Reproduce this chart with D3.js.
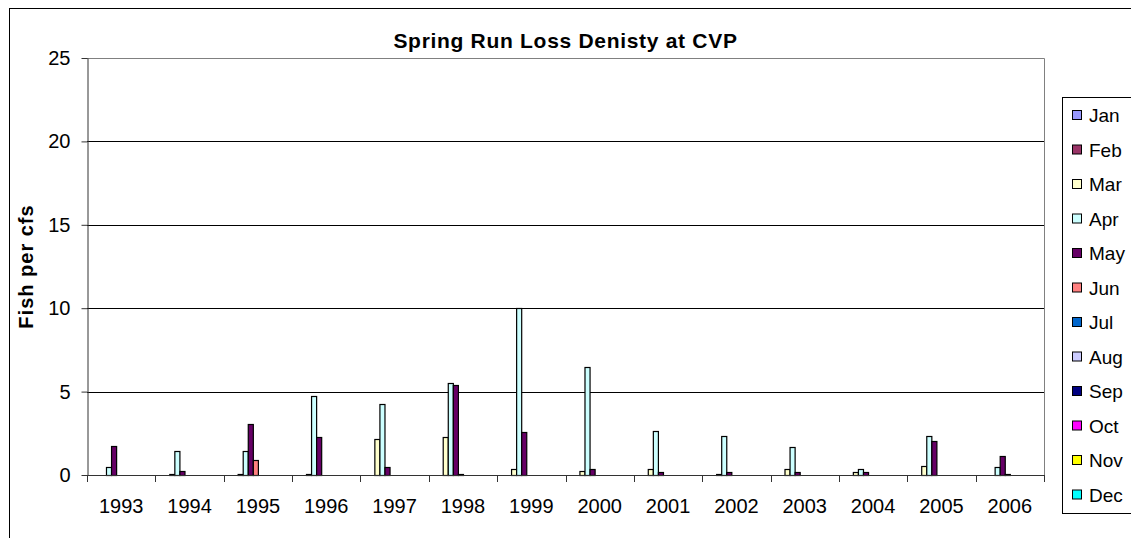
<!DOCTYPE html>
<html>
<head>
<meta charset="utf-8">
<script src="https://cdn.jsdelivr.net/npm/d3@7"></script>
<style>
  body { margin: 0; background: #fff; }
  svg { display: block; font-family: "Liberation Sans", Arial, sans-serif; }
</style>
</head>
<body>
<svg id="chart" width="1131" height="538"></svg>
<script>
// years on the x axis
var years = ["1993", "1994", "1995", "1996", "1997", "1998", "1999",
             "2000", "2001", "2002", "2003", "2004", "2005", "2006"];
var months = ["Jan", "Feb", "Mar", "Apr", "May", "Jun",
              "Jul", "Aug", "Sep", "Oct", "Nov", "Dec"];
var monthColors = ["#9999FF", "#993366", "#FFFFCC", "#CCFFFF", "#660066", "#FF8080",
                   "#0066CC", "#CCCCFF", "#000080", "#FF00FF", "#FFFF00", "#00FFFF"];

// fish per cfs, one array per month (1993..2006)
var jan = [0, 0, 0, 0, 0, 0, 0, 0, 0, 0, 0, 0, 0, 0];
var feb = [0, 0, 0, 0, 0, 0, 0, 0, 0, 0, 0, 0, 0, 0];
var mar = [0, 0.05, 0.05, 0.05, 2.15, 2.25, 0.35, 0.25, 0.35, 0.05, 0.35, 0.18, 0.55, 0];
var apr = [0.5, 1.45, 1.45, 4.75, 4.25, 5.5, 10.0, 6.5, 2.65, 2.35, 1.65, 0.35, 2.35, 0.45];
var may = [1.75, 0.25, 3.05, 2.25, 0.45, 5.4, 2.55, 0.35, 0.18, 0.18, 0.18, 0.18, 2.05, 1.15];
var jun = [0, 0, 0.88, 0, 0, 0.05, 0, 0, 0, 0, 0, 0, 0, 0.05];
var jul = [0, 0, 0, 0, 0, 0, 0, 0, 0, 0, 0, 0, 0, 0];
var aug = [0, 0, 0, 0, 0, 0, 0, 0, 0, 0, 0, 0, 0, 0];
var sep = [0, 0, 0, 0, 0, 0, 0, 0, 0, 0, 0, 0, 0, 0];
var oct = [0, 0, 0, 0, 0, 0, 0, 0, 0, 0, 0, 0, 0, 0];
var nov = [0, 0, 0, 0, 0, 0, 0, 0, 0, 0, 0, 0, 0, 0];
var dec = [0, 0, 0, 0, 0, 0, 0, 0, 0, 0, 0, 0, 0, 0];
var yTicks = [0, 5, 10, 15, 20, 25];

var series = [jan, feb, mar, apr, may, jun, jul, aug, sep, oct, nov, dec];

var plot = {left: 87, top: 58, right: 1044, bottom: 475};

var svg = d3.select("#chart");

// outer chart frame
svg.append("rect")
    .attr("x", 9.5).attr("y", 8.5)
    .attr("width", 1140).attr("height", 560)
    .attr("fill", "#fff").attr("stroke", "#000");

var x = d3.scaleBand()
    .domain(years)
    .range([plot.left, plot.right])
    .padding(0);

var xm = d3.scaleBand()
    .domain(months)
    .range([0, x.bandwidth()])
    .paddingInner(0)
    .paddingOuter(0.75);

var y = d3.scaleLinear()
    .domain([0, 25])
    .range([plot.bottom, plot.top]);

// plot area border (grey) top & right
svg.append("path")
    .attr("d", "M" + plot.left + "," + (plot.top + 0.5) + "H" + (plot.right + 0.5) + "V" + plot.bottom)
    .attr("fill", "none")
    .attr("stroke", "#808080");

// gridlines
svg.append("g")
    .selectAll("line")
    .data(yTicks.filter(function(d) { return d > 0 && d < 25; }))
    .enter().append("line")
    .attr("x1", plot.left).attr("x2", plot.right)
    .attr("y1", function(d) { return Math.round(y(d)) + 0.5; })
    .attr("y2", function(d) { return Math.round(y(d)) + 0.5; })
    .attr("stroke", "#000");

// bars
var groups = svg.append("g")
    .selectAll("g")
    .data(years)
    .enter().append("g")
    .attr("transform", function(d) { return "translate(" + x(d) + ",0)"; });

groups.selectAll("rect")
    .data(function(d, i) {
        return months.map(function(m, j) { return {month: m, idx: j, value: series[j][i]}; })
            .filter(function(e) { return e.value > 0; });
    })
    .enter().append("rect")
    .attr("x", function(d) { return xm(d.month) + 0.5; })
    .attr("y", function(d) { return Math.round(y(d.value)) + 0.5; })
    .attr("width", xm.bandwidth())
    .attr("height", function(d) { return plot.bottom - Math.round(y(d.value)); })
    .attr("fill", function(d) { return monthColors[d.idx]; })
    .attr("stroke", "#000")
    .attr("stroke-width", 1.2);

// y axis
var yAxis = svg.append("g")
    .attr("transform", "translate(" + (plot.left + 0.5) + ",0)")
    .call(d3.axisLeft(y).tickValues(yTicks).tickSize(6).tickPadding(11).tickSizeOuter(0));
yAxis.select(".domain").attr("stroke", "#333");
yAxis.selectAll(".tick line").attr("stroke", "#333");
yAxis.selectAll("text")
    .attr("font-size", "20px")
    .attr("font-family", "Liberation Sans, Arial, sans-serif")
    .attr("fill", "#000");

// x axis line with ticks at group boundaries
var xg = svg.append("g");
xg.append("line")
    .attr("x1", plot.left).attr("x2", plot.right)
    .attr("y1", plot.bottom + 0.5).attr("y2", plot.bottom + 0.5)
    .attr("stroke", "#333");
var bounds = years.map(function(d) { return x(d); }).concat([x(years[years.length - 1]) + x.bandwidth()]);
xg.selectAll("line.tk")
    .data(bounds)
    .enter().append("line")
    .attr("class", "tk")
    .attr("x1", function(d) { return Math.round(d) + 0.5; })
    .attr("x2", function(d) { return Math.round(d) + 0.5; })
    .attr("y1", plot.bottom).attr("y2", plot.bottom + 7)
    .attr("stroke", "#333");
xg.selectAll("text")
    .data(years)
    .enter().append("text")
    .attr("x", function(d) { return x(d) + x.bandwidth() / 2; })
    .attr("y", 513)
    .attr("text-anchor", "middle")
    .attr("font-size", "20px")
    .text(function(d) { return d; });

// title
svg.append("text")
    .attr("x", (plot.left + plot.right) / 2)
    .attr("y", 48)
    .attr("text-anchor", "middle")
    .attr("font-size", "21px")
    .attr("font-weight", "bold")
    .attr("letter-spacing", "0.7px")
    .text("Spring Run Loss Denisty at CVP");

// y label
svg.append("text")
    .attr("transform", "translate(33," + ((plot.top + plot.bottom) / 2) + ") rotate(-90)")
    .attr("text-anchor", "middle")
    .attr("font-size", "20px")
    .attr("font-weight", "bold")
    .attr("letter-spacing", "1px")
    .text("Fish per cfs");

// legend
var legend = svg.append("g");
legend.append("rect")
    .attr("x", 1062.5).attr("y", 97.5)
    .attr("width", 100).attr("height", 416)
    .attr("fill", "#fff").attr("stroke", "#000");

var items = legend.selectAll("g.item")
    .data(months)
    .enter().append("g")
    .attr("class", "item")
    .attr("transform", function(d, i) { return "translate(0," + (115.5 + i * 34.5) + ")"; });
items.append("rect")
    .attr("x", 1072.5).attr("y", -5)
    .attr("width", 9).attr("height", 9)
    .attr("fill", function(d, i) { return monthColors[i]; })
    .attr("stroke", "#000");
items.append("text")
    .attr("x", 1089)
    .attr("y", 6.5)
    .attr("font-size", "19px")
    .text(function(d) { return d; });
</script>
</body>
</html>
